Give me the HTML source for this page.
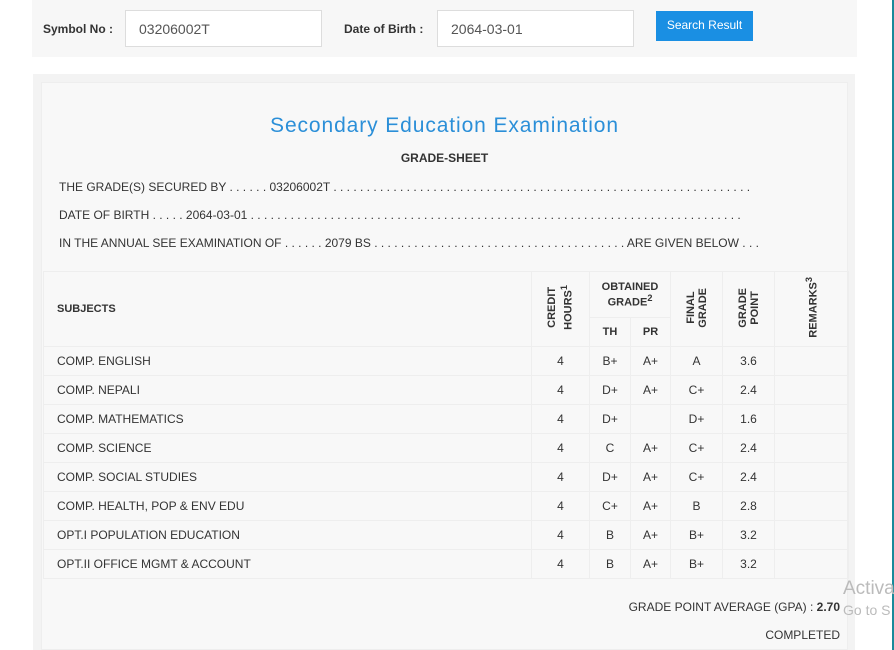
<!DOCTYPE html>
<html><head><meta charset="utf-8"><style>
*{box-sizing:border-box;margin:0;padding:0}
body{width:894px;height:650px;background:#fff;font-family:"Liberation Sans",Arial,sans-serif;color:#333;position:relative;overflow:hidden}
.abs{position:absolute}
.top{left:32px;top:0;width:825px;height:57px;background:#f7f7f7}
.lbl{font-size:12px;font-weight:bold;color:#333}
.inp{background:#fff;border:1px solid #ddd;height:37px;font-size:14px;color:#555;padding:10px 0 0 13px}
.btn{left:656px;top:11px;width:97px;height:30px;background:#1a8fe3;color:#fff;font-size:12px;text-align:center;line-height:28px}
.outer{left:33px;top:74px;width:822px;height:576px;background:#f3f3f3}
.inner{left:41px;top:82px;width:807px;height:568px;background:#f8f8f8;border:1px solid #eee}
.t{font-size:12px;color:#333}
table{position:absolute;left:43px;top:271px;border-collapse:collapse;font-size:12px;color:#333}
td{border:1px solid #eee;text-align:center;height:29px}
td.s{text-align:left;padding-left:13px}
.v{writing-mode:vertical-rl;transform:rotate(180deg);font-weight:bold;font-size:11px;display:inline-block;line-height:12px}
.h{font-weight:bold;font-size:11px}
</style></head><body>
<div class="abs top"></div>
<div class="abs lbl" style="left:43px;top:22px">Symbol No :</div>
<div class="abs inp" style="left:125px;top:10px;width:197px">03206002T</div>
<div class="abs lbl" style="left:344px;top:22px">Date of Birth :</div>
<div class="abs inp" style="left:437px;top:10px;width:197px">2064-03-01</div>
<div class="abs btn">Search Result</div>
<div class="abs" style="left:892px;top:0;width:2px;height:650px;background:#1a8a9a"></div>
<div class="abs outer"></div>
<div class="abs inner"></div>
<div class="abs" style="left:41px;width:807px;top:114px;text-align:center;font-size:21px;letter-spacing:0.9px;color:#2b8fd8">Secondary Education Examination</div>
<div class="abs" style="left:41px;width:807px;top:151px;text-align:center;font-size:12px;font-weight:bold">GRADE-SHEET</div>
<div class="abs t" style="left:59px;top:180px;white-space:nowrap">THE GRADE(S) SECURED BY . . . . . . 03206002T . . . . . . . . . . . . . . . . . . . . . . . . . . . . . . . . . . . . . . . . . . . . . . . . . . . . . . . . . . . . . . .</div>
<div class="abs t" style="left:59px;top:208px;white-space:nowrap">DATE OF BIRTH . . . . . 2064-03-01 . . . . . . . . . . . . . . . . . . . . . . . . . . . . . . . . . . . . . . . . . . . . . . . . . . . . . . . . . . . . . . . . . . . . . . . . . .</div>
<div class="abs t" style="left:59px;top:236px;white-space:nowrap">IN THE ANNUAL SEE EXAMINATION OF . . . . . . 2079 BS . . . . . . . . . . . . . . . . . . . . . . . . . . . . . . . . . . . . . . ARE GIVEN BELOW . . .</div>
<table>
<tr><td class="s h" rowspan="2" style="width:488px;height:74px">SUBJECTS</td>
<td rowspan="2" style="width:58px"><span class="v">CREDIT<br>HOURS<sup>1</sup></span></td>
<td colspan="2" class="h" style="height:46px">OBTAINED<br>GRADE<sup>2</sup></td>
<td rowspan="2" style="width:52px"><span class="v">FINAL<br>GRADE</span></td>
<td rowspan="2" style="width:52px"><span class="v">GRADE<br>POINT</span></td>
<td rowspan="2" style="width:74px"><span class="v">REMARKS<sup>3</sup></span></td></tr>
<tr><td class="h" style="width:41px;height:27px">TH</td><td class="h" style="width:40px">PR</td></tr>
<tr><td class="s">COMP. ENGLISH</td><td>4</td><td>B+</td><td>A+</td><td>A</td><td>3.6</td><td></td></tr>
<tr><td class="s">COMP. NEPALI</td><td>4</td><td>D+</td><td>A+</td><td>C+</td><td>2.4</td><td></td></tr>
<tr><td class="s">COMP. MATHEMATICS</td><td>4</td><td>D+</td><td></td><td>D+</td><td>1.6</td><td></td></tr>
<tr><td class="s">COMP. SCIENCE</td><td>4</td><td>C</td><td>A+</td><td>C+</td><td>2.4</td><td></td></tr>
<tr><td class="s">COMP. SOCIAL STUDIES</td><td>4</td><td>D+</td><td>A+</td><td>C+</td><td>2.4</td><td></td></tr>
<tr><td class="s">COMP. HEALTH, POP &amp; ENV EDU</td><td>4</td><td>C+</td><td>A+</td><td>B</td><td>2.8</td><td></td></tr>
<tr><td class="s">OPT.I POPULATION EDUCATION</td><td>4</td><td>B</td><td>A+</td><td>B+</td><td>3.2</td><td></td></tr>
<tr><td class="s">OPT.II OFFICE MGMT &amp; ACCOUNT</td><td>4</td><td>B</td><td>A+</td><td>B+</td><td>3.2</td><td></td></tr>
</table>
<div class="abs t" style="right:54px;top:600px;white-space:nowrap">GRADE POINT AVERAGE (GPA) : <b>2.70</b></div>
<div class="abs t" style="right:54px;top:628px">COMPLETED</div>
<div class="abs" style="left:843px;top:578px;font-size:19px;color:#bbb">Activa</div>
<div class="abs" style="left:843px;top:602px;font-size:14px;color:#bbb">Go to S</div>
</body></html>
